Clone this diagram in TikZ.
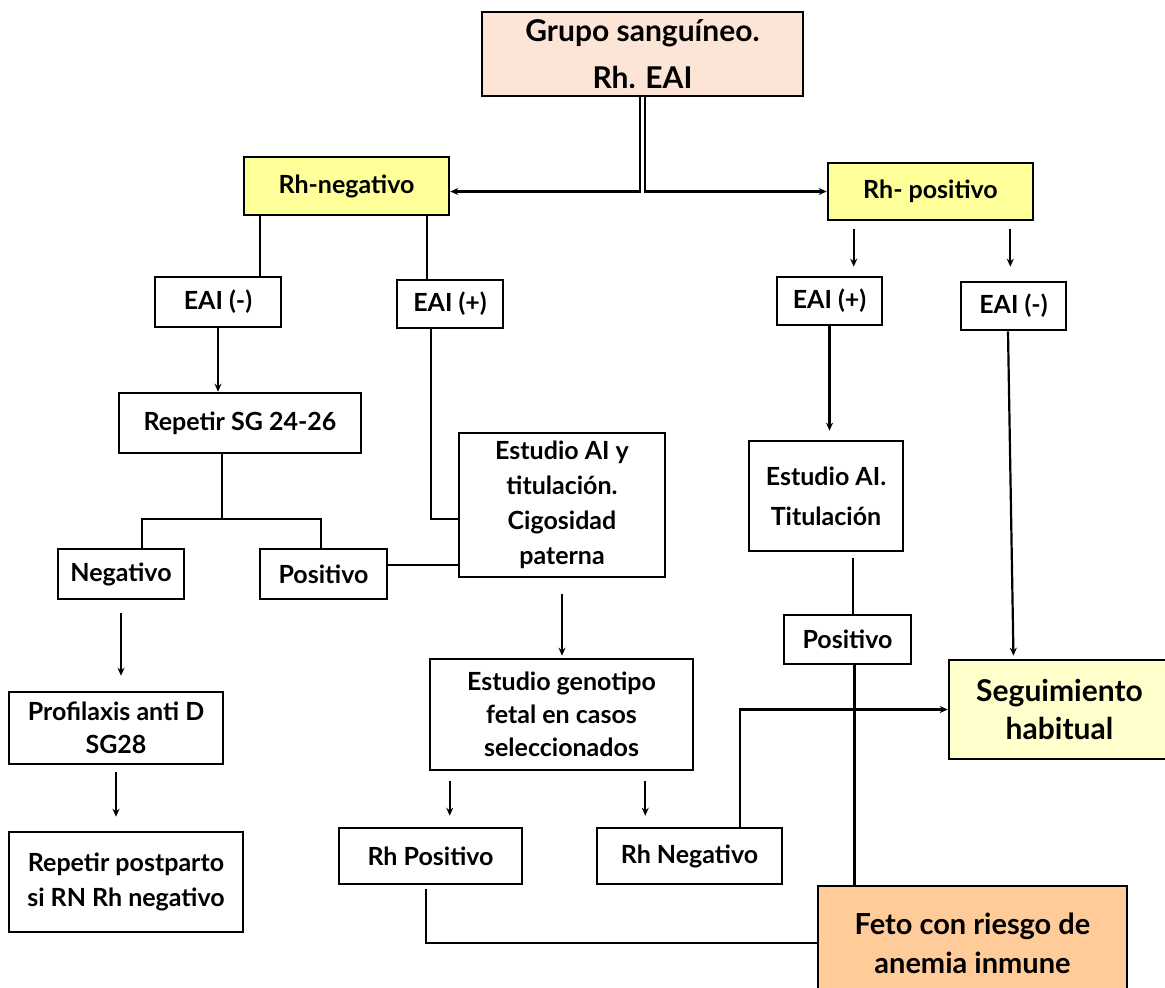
\documentclass[tikz,border=0pt]{standalone}
\usepackage{fontspec}
\setmainfont{Lato}
\usetikzlibrary{arrows.meta,positioning}

\definecolor{grupofill}{HTML}{FCE4D6}
\definecolor{rhyellow}{HTML}{FFFF99}
\definecolor{seguifill}{HTML}{FFFFCC}
\definecolor{fetofill}{HTML}{FFCC99}

\tikzset{
  box/.style={draw, line width=2.6pt, fill=white, align=center, inner sep=0pt,
    font=\fontsize{25}{35}\selectfont\bfseries},
  rhbox/.style={box, fill=rhyellow},
  arr/.style={-{Stealth[length=8pt,width=7pt]}},
}

\begin{document}
\begin{tikzpicture}[x=1pt, y=-1pt, line width=2.2pt]
\useasboundingbox (0,0) rectangle (1165,988);

% top
\node[box, fill=grupofill, minimum width=321, minimum height=84,
  font=\fontsize{30}{47}\selectfont\bfseries] (grupo) at (642.5,54) {Grupo sanguíneo.\\Rh. EAI};
\node[rhbox, minimum width=205, minimum height=58] (rhneg) at (346.5,186) {Rh-negativo};
\node[rhbox, minimum width=205, minimum height=57] (rhpos) at (930.5,191.5) {Rh- positivo};
\draw[arr] ([xshift=-2.4]grupo.south) |- (rhneg.east |- rhpos.west);
\draw[arr] ([xshift=2.4]grupo.south) |- (rhpos.west);

% left branch
\node[box, minimum width=126, minimum height=50] (eaiML) at (218,302) {EAI (-)};
\node[box, minimum width=106, minimum height=48] (eaiPL) at (450,304) {EAI (+)};
\node[box, minimum width=242, minimum height=60] (repetir) at (240,423) {Repetir SG 24-26};
\node[box, minimum width=126, minimum height=50] (negativo) at (121,574) {Negativo};
\node[box, minimum width=127, minimum height=50] (positivoL) at (323.5,574) {Positivo};
\node[box, minimum width=206, minimum height=144] (estudio) at (562,505) {Estudio AI y\\titulación.\\Cigosidad\\paterna};
\node[box, minimum width=214, minimum height=72,
  font=\fontsize{25}{33}\selectfont\bfseries] (profil) at (116,728) {Profilaxis anti D\\SG28};
\node[box, minimum width=234, minimum height=100] (postparto) at (126,882) {Repetir postparto\\si RN Rh negativo};
\node[box, minimum width=263, minimum height=111,
  font=\fontsize{25}{33}\selectfont\bfseries] (genotipo) at (561.5,714.5) {Estudio genotipo\\fetal en casos\\seleccionados};
\node[box, minimum width=183, minimum height=56] (rhposF) at (430.5,856) {Rh Positivo};
\node[box, minimum width=185, minimum height=56] (rhnegF) at (689.5,856) {Rh Negativo};

\draw ([xshift=17]rhneg.south west) -- ([xshift=17]rhneg.south west |- eaiML.north);
\draw ([xshift=-23]rhneg.south east) -- ([xshift=-23]rhneg.south east |- eaiPL.north);
\draw[arr] (eaiML.south) -- (eaiML.south |- repetir.north);
\coordinate (splitL) at (142,519);
\coordinate (splitR) at (321,519);
\draw ([xshift=-18]repetir.south) -- ([xshift=-18]repetir.south |- splitL);
\draw (splitL |- negativo.north) -- (splitL) -- (splitR) -- (splitR |- positivoL.north);
\draw ([xshift=-19]eaiPL.south) |- ([yshift=-14]estudio.west);
\draw ([yshift=9]positivoL.east) -- ([yshift=9]positivoL.east -| estudio.west);
\draw[arr, shorten <=16pt, shorten >=2pt] (estudio.south) -- (estudio.south |- genotipo.north);
\draw[arr, shorten <=13pt, shorten >=15pt] (negativo.south) -- (negativo.south |- profil.north);
\draw[arr, shorten <=7pt, shorten >=14pt] (profil.south) -- (profil.south |- postparto.north);
\draw[arr, shorten <=10pt, shorten >=11pt] ([xshift=21]genotipo.south west) -- ([xshift=21]genotipo.south west |- rhposF.north);
\draw[arr, shorten <=10pt, shorten >=11pt] ([xshift=-49]genotipo.south east) -- ([xshift=-49]genotipo.south east |- rhnegF.north);

% right branch
\node[box, minimum width=105, minimum height=48] (eaiPR) at (829.5,301) {EAI (+)};
\node[box, minimum width=105, minimum height=48] (eaiMR) at (1013.5,306) {EAI (-)};
\node[box, minimum width=154, minimum height=110,
  font=\fontsize{25}{40}\selectfont\bfseries] (titul) at (826,496) {Estudio AI.\\Titulación};
\node[box, minimum width=127, minimum height=49] (positivoR) at (847.5,639.5) {Positivo};
\node[box, fill=seguifill, minimum width=221, minimum height=99,
  font=\fontsize{30}{38}\selectfont\bfseries] (seguim) at (1059.5,709.5) {Seguimiento\\habitual};
\node[box, fill=fetofill, minimum width=309, minimum height=114,
  font=\fontsize{29}{39}\selectfont\bfseries] (feto) at (972.5,943) {Feto con riesgo de\\anemia inmune};

\draw[arr, shorten <=8pt, shorten >=9pt] ([xshift=27]rhpos.south west) -- ([xshift=27]rhpos.south west |- eaiPR.north);
\draw[arr, shorten <=8pt, shorten >=14pt] ([xshift=-24]rhpos.south east) -- ([xshift=-24]rhpos.south east |- eaiMR.north);
\draw[arr, shorten >=9pt] (eaiPR.south) -- (eaiPR.south |- titul.north);
\draw[shorten <=6pt] ([xshift=5.5]positivoR.north |- titul.south) -- ([xshift=5.5]positivoR.north);
\draw ([xshift=7]positivoR.south) -- ([xshift=7]positivoR.south |- feto.north);
\draw[arr, shorten >=3pt] ([xshift=-5.5]eaiMR.south) -- (eaiMR.south |- seguim.north);
\draw[arr] ([xshift=50.5]rhnegF.north) |- (seguim.west);
\draw[shorten <=4pt] ([xshift=-4.5]rhposF.south) |- (feto.west);
\end{tikzpicture}
\end{document}
